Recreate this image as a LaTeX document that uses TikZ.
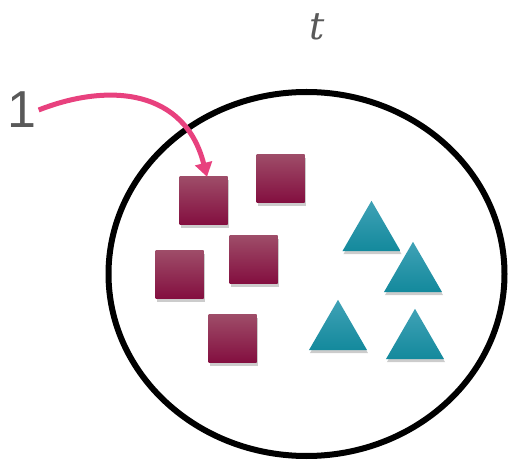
\documentclass[tikz,border=0pt]{standalone}
\usepackage{fontspec}
\setsansfont{Liberation Sans}
\newfontfamily\varfont{DejaVu Serif}
\usepackage{tikz}
\usetikzlibrary{arrows.meta,shapes.geometric,shadows}
\definecolor{wine}{HTML}{830E3F}
\definecolor{winepale}{HTML}{9E4C68}
\definecolor{teal}{HTML}{13899C}
\definecolor{tealpale}{HTML}{40A2B6}
\definecolor{rose}{HTML}{E8417E}
\definecolor{label}{HTML}{595959}
\tikzset{
  sq/.style={rectangle,minimum size=48pt,inner sep=0pt,top color=winepale,bottom color=wine,
    drop shadow={opacity=0.4,shadow xshift=1pt,shadow yshift=-3pt}},
  tri/.style={regular polygon,regular polygon sides=3,minimum size=67pt,inner sep=0pt,
    top color=tealpale,bottom color=teal,drop shadow={opacity=0.4,shadow xshift=1pt,shadow yshift=-3pt}},
}

\begin{document}
\begin{tikzpicture}[x=1pt,y=1pt]
  \useasboundingbox (0,0) rectangle (509,461);
  \node[ellipse,draw,line width=6pt,minimum width=396pt,minimum height=364pt,inner sep=0pt] (set) at (306.5,187) {};
  \node[text=label,font=\varfont\itshape\fontsize{38}{38}\selectfont] (name) at (317,434) {t};
  \node[text=label,font=\sffamily\fontsize{52}{52}\selectfont,inner sep=2pt] (one) at (22,351) {1};
  % squares
  \node[sq] (s1) at (203.5,260) {};
  \node[sq] (s2) at (280.5,282) {};
  \node[sq] (s3) at (253.5,201) {};
  \node[sq] (s4) at (179.5,186) {};
  \node[sq] (s5) at (232.5,122) {};
  % triangles
  \node[tri] (t1) at (371.5,226.7) {};
  \node[tri] (t2) at (413,185.7) {};
  \node[tri] (t3) at (338,127.7) {};
  \node[tri] (t4) at (415,118.7) {};
  \draw[rose,line width=5pt,-{Triangle[length=14pt,width=17pt]}]
    (one.east) .. controls (110,379) and (185,371) .. ([xshift=3.5pt]s1.north);
\end{tikzpicture}
\end{document}
